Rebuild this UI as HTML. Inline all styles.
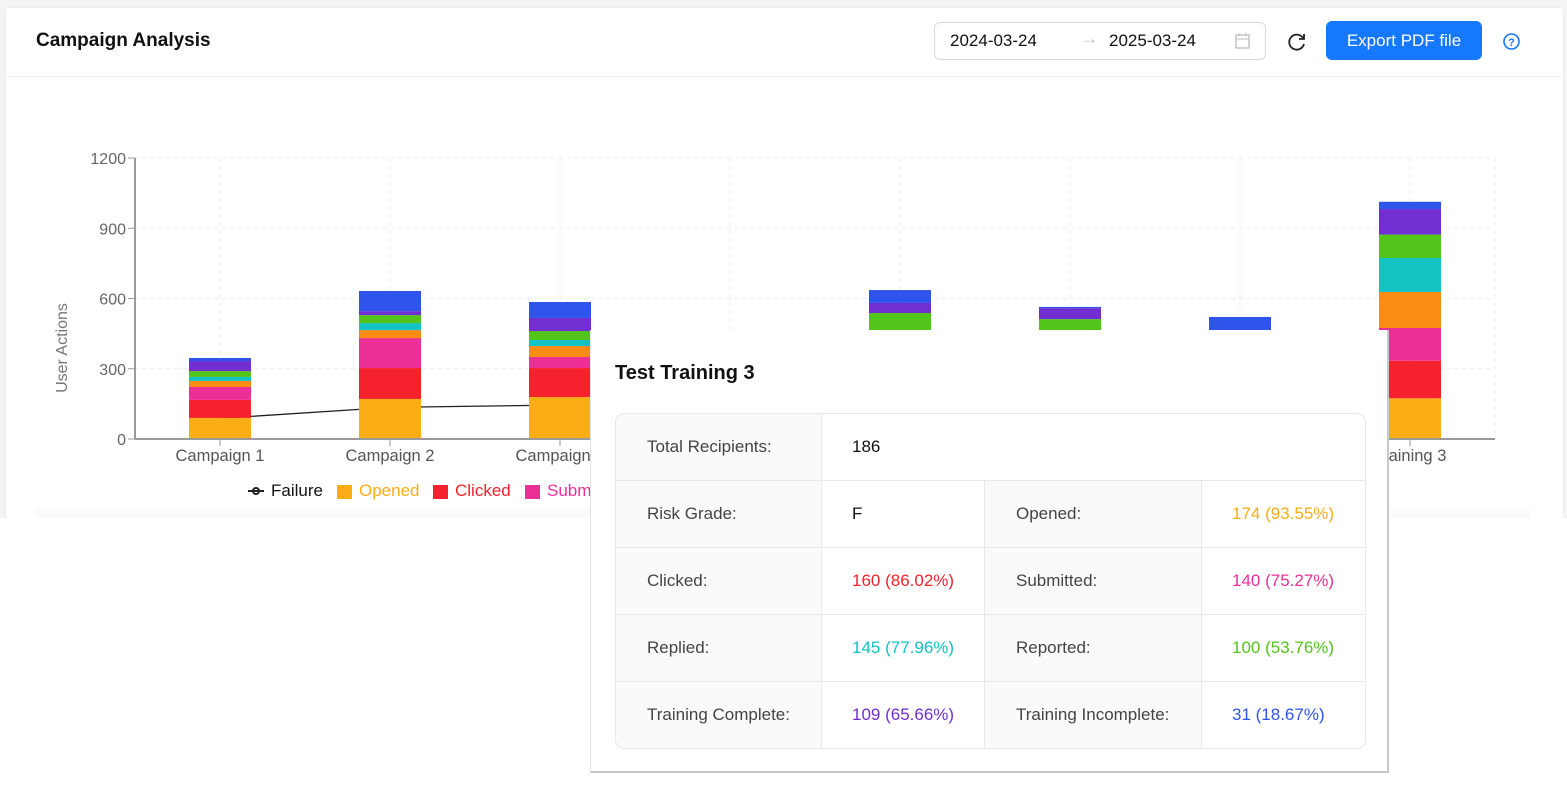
<!DOCTYPE html>
<html><head><meta charset="utf-8">
<style>
body{margin:0;width:1567px;height:785px;background:#fff;font-family:"Liberation Sans",sans-serif;position:relative;overflow:hidden}
.abs{position:absolute}
#card{left:5px;top:7px;width:1557px;height:511px;background:#fff;border:1px solid #eee;border-radius:4px}
#outer{left:0;top:0;width:1567px;height:518px;background:#f4f4f4}
#tip{left:590px;top:330px;width:796px;height:441px;background:#fff;border-right:2px solid #c8c8c8;border-bottom:2px solid #c8c8c8;border-left:1px solid #e4e4e4}
table{border-collapse:separate;border-spacing:0;position:absolute;left:24px;top:83px;width:751px;border:1px solid #e8e8e8;border-radius:9px;overflow:hidden;font-size:17px}
td{height:66px;border-bottom:1px solid #e8e8e8;border-right:1px solid #e8e8e8;padding:0;color:#111}
tr:last-child td{border-bottom:none}
td:last-child{border-right:none}
td.l{background:#fafafa;color:#444;padding-left:31px}
td.v{padding-left:30px}
</style></head><body>
<div class="abs" id="outer"></div>
<div class="abs" id="card"></div>
<div class="abs" style="left:6px;top:76px;width:1556px;height:1px;background:#eee"></div>
<div class="abs" style="left:36px;top:30px;font-size:19px;font-weight:bold;color:#111">Campaign Analysis</div>
<div class="abs" style="left:934px;top:22px;width:330px;height:36px;border:1px solid #d9d9d9;border-radius:6px;font-size:17px;color:#111">
 <span class="abs" style="left:15px;top:8px">2024-03-24</span>
 <span class="abs" style="left:146px;top:6px;color:#bbb">→</span>
 <span class="abs" style="left:174px;top:8px">2025-03-24</span>
 <svg class="abs" style="left:299px;top:9px" width="18" height="18"><rect x="2" y="3" width="13" height="13" fill="none" stroke="#bbb" stroke-width="1.3"/><line x1="2" y1="7" x2="15" y2="7" stroke="#bbb"/><line x1="5" y1="1" x2="5" y2="4" stroke="#bbb"/><line x1="12" y1="1" x2="12" y2="4" stroke="#bbb"/></svg>
</div>
<svg class="abs" style="left:1286px;top:31px" width="22" height="22"><path d="M17 7 A7.5 7.5 0 1 0 18 13" fill="none" stroke="#222" stroke-width="1.8"/><path d="M18 3 L18 8 L13 8" fill="none" stroke="#222" stroke-width="1.8"/></svg>
<div class="abs" style="left:1326px;top:21px;width:156px;height:39px;background:#1677ff;border-radius:6px;color:#fff;font-size:17px;line-height:39px;text-align:center">Export PDF file</div>
<svg class="abs" style="left:1502px;top:32px" width="19" height="19"><circle cx="9.5" cy="9.5" r="7.5" fill="none" stroke="#1677ff" stroke-width="1.6"/><text x="9.5" y="14" font-size="11" font-weight="bold" fill="#1677ff" text-anchor="middle" font-family="Liberation Sans">?</text></svg>
<div class="abs" style="left:35px;top:509px;width:1495px;height:9px;background:#fafafa"></div>
<div class="abs" style="left:0;top:518px;width:1567px;height:267px;background:#fff"></div>

<svg id="chart" class="abs" style="left:0;top:0" width="1567" height="520"></svg>

<div class="abs" id="tip">
 <div class="abs" style="left:24px;top:32px;font-size:20px;font-weight:bold;color:#111">Test Training 3</div>
 <table>
  <tr><td class="l" style="width:174px">Total Recipients:</td><td class="v" colspan="3">186</td></tr>
  <tr><td class="l">Risk Grade:</td><td class="v" style="width:132px">F</td><td class="l" style="width:185px">Opened:</td><td class="v" style="color:#faad14">174 (93.55%)</td></tr>
  <tr><td class="l">Clicked:</td><td class="v" style="color:#f5222d">160 (86.02%)</td><td class="l">Submitted:</td><td class="v" style="color:#eb2f96">140 (75.27%)</td></tr>
  <tr><td class="l">Replied:</td><td class="v" style="color:#13c2c2">145 (77.96%)</td><td class="l">Reported:</td><td class="v" style="color:#52c41a">100 (53.76%)</td></tr>
  <tr><td class="l">Training Complete:</td><td class="v" style="color:#722ed1">109 (65.66%)</td><td class="l">Training Incomplete:</td><td class="v" style="color:#2f54eb">31 (18.67%)</td></tr>
 </table>
</div>

<script>
const categories=["Campaign 1","Campaign 2","Campaign 3","Campaign 4","Training 1","Training 2","Test Training 2","Training 3"];
const seriesNames=["Opened","Clicked","Submitted","Attachment Opened","Replied","Reported","Training Complete","Training Incomplete"];
const opened=[90,171,179,150,150,150,130,174];
const clicked=[77,132,124,110,120,120,100,160];
const submitted=[55,128,47,70,80,90,80,140];
const attachment=[26,34,47,40,40,40,40,154];
const replied=[17,30,26,30,40,40,40,145];
const reported=[25,34,38,20,108,72,40,100];
const trainingComplete=[43,17,56,10,43,47,0,109];
const trainingIncomplete=[13,86,68,0,55,5,91,31];
const failure=[88,135,145,150,140,150,130,160];
const yTicks=[0,300,600,900,1200];
const colors=["#faad14","#f5222d","#eb2f96","#fa8c16","#13c2c2","#52c41a","#722ed1","#2f54eb"];
const series=[opened,clicked,submitted,attachment,replied,reported,trainingComplete,trainingIncomplete];
const NS="http://www.w3.org/2000/svg";
const svg=document.getElementById('chart');
const X0=135,X1=1495,Y0=439,Y1=158,YMAX=1200;
const band=(X1-X0)/categories.length, bw=62;
const xC=i=>X0+band*(i+0.5);
const yS=v=>Y0-(v/YMAX)*(Y0-Y1);
function mk(t,a){const e=document.createElementNS(NS,t);for(const k in a)e.setAttribute(k,a[k]);svg.appendChild(e);return e;}
yTicks.forEach(t=>{
 if(t>0){const g=mk('line',{x1:X0,x2:X1,y1:yS(t),y2:yS(t),stroke:'#ececec','stroke-dasharray':'4 4'});
 
 }
 const tk=mk('line',{x1:X0-7,x2:X0,y1:yS(t),y2:yS(t),stroke:'#999'});
 
 
 const l=mk('text',{x:X0-9,y:yS(t)+6,'text-anchor':'end','font-size':16,fill:'#666','font-family':'Liberation Sans'});
 l.textContent=t;
 
 
});
categories.forEach((c,i)=>{
 const g=mk('line',{x1:xC(i),x2:xC(i),y1:Y1,y2:Y0,stroke:'#ececec','stroke-dasharray':'4 4'});
 
 
});
const rg=mk('line',{x1:X1,x2:X1,y1:Y1,y2:Y0,stroke:'#ececec','stroke-dasharray':'4 4'});


const ya=mk('line',{x1:X0,x2:X0,y1:Y1,y2:Y0,stroke:'#999','stroke-width':2});


const yt=mk('text',{x:0,y:0,transform:'translate(67,348) rotate(-90)','text-anchor':'middle','font-size':16,fill:'#777','font-family':'Liberation Sans'});
yt.textContent='User Actions';


const pts=failure.map((v,i)=>xC(i)+','+yS(v)).join(' ');
const fl=mk('polyline',{points:pts,fill:'none',stroke:'#222','stroke-width':1.3});


categories.forEach((c,i)=>{
 let acc=0;
 series.forEach((s,k)=>{
  const v=s[i]; if(v<=0)return;
  const r=mk('rect',{x:xC(i)-bw/2,y:yS(acc+v),width:bw,height:yS(acc)-yS(acc+v),fill:colors[k]});
  
  
  acc+=v;
 });
 const tk=mk('line',{x1:xC(i),x2:xC(i),y1:Y0,y2:Y0+7,stroke:'#999'});
 
 
 const l=mk('text',{x:xC(i),y:Y0+22,'text-anchor':'middle','font-size':16.5,fill:'#555','font-family':'Liberation Sans'});
 l.textContent=c;
 
 
});
const xa=mk('line',{x1:X0,x2:X1,y1:Y0,y2:Y0,stroke:'#999','stroke-width':2});


const lf=mk('path',{d:'M248 491 H264 M256 491 m-3 0 a3 3 0 1 0 6 0 a3 3 0 1 0 -6 0',stroke:'#222','stroke-width':2,fill:'#fff'});


const lft=mk('text',{x:271,y:496,'font-size':17,fill:'#111','font-family':'Liberation Sans'});
lft.textContent='Failure';


let lx=337;
["Opened","Clicked","Submitted"].forEach((n,k)=>{
 const r=mk('rect',{x:lx,y:485,width:15,height:14,fill:colors[k]});
 
 
 const t=mk('text',{x:lx+22,y:496,'font-size':17,fill:colors[k],'font-family':'Liberation Sans'});
 t.textContent=n;
 
 
 lx+= [96,92,100][k];
});
</script>
</body></html>
